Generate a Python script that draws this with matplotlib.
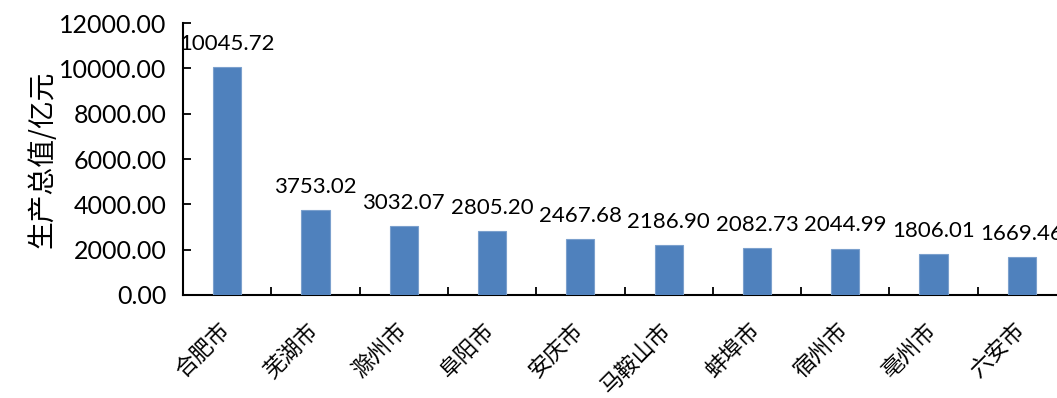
import matplotlib
matplotlib.use("Agg")
import matplotlib.pyplot as plt
from matplotlib.ticker import FormatStrFormatter
from matplotlib.transforms import ScaledTranslation

cities = ["合肥市", "芜湖市", "滁州市", "阜阳市", "安庆市", "马鞍山市", "蚌埠市", "宿州市", "亳州市", "六安市"]
gdp = [10045.72, 3753.02, 3032.07, 2805.20, 2467.68, 2186.90, 2082.73, 2044.99, 1806.01, 1669.46]
value_labels = ["10045.72", "3753.02", "3032.07", "2805.20", "2467.68", "2186.90", "2082.73", "2044.99", "1806.01", "1669.46"]
y_label = "生产总值/亿元"

num_font = "Lato"
cjk = ["Noto Sans CJK SC", "DejaVu Sans"]

fig = plt.figure(figsize=(10.57, 3.98), dpi=100)
ax = fig.add_axes([183/1057, 103/398, 883/1057, 272/398])

x = list(range(len(cities)))
ax.bar(x, gdp, width=0.32, color="#4F81BD", edgecolor="#7BA0CD", linewidth=0.8, zorder=3)
ax.set_xlim(-0.5, len(cities) - 0.5)
ax.set_ylim(0, 12000)
ax.set_yticks([0, 2000, 4000, 6000, 8000, 10000, 12000])
ax.yaxis.set_major_formatter(FormatStrFormatter("%.2f"))

for xi, v, lab in zip(x, gdp, value_labels):
    ax.annotate(lab, (xi, v), xytext=(0, 9.5), textcoords="offset points",
                ha="center", va="bottom", fontsize=16, family=num_font, color="black")

ax.set_xticks(x)
ax.set_xticklabels(cities, rotation=45, ha="right", va="center", rotation_mode="anchor",
                   fontsize=16, family=cjk, fontweight="light")
ax.tick_params(axis="x", length=0, pad=23)
offset = ScaledTranslation(-1/100, 0, fig.dpi_scale_trans)
for lbl in ax.get_xticklabels():
    lbl.set_transform(lbl.get_transform() + offset)
# category boundary ticks
ax.set_xticks([i + 0.5 for i in x[:-1]], minor=True)
ax.tick_params(axis="x", which="minor", direction="in", length=6, width=1.3)
ax.tick_params(axis="y", direction="in", length=6, width=1.3, labelsize=18, pad=12)
for lbl in ax.get_yticklabels():
    lbl.set_family(num_font)

ax.set_ylabel(y_label, fontsize=20, family=cjk, fontweight="light")
ax.yaxis.set_label_coords(-0.1427, 0.5)

for s in ["top", "right"]:
    ax.spines[s].set_visible(False)
ax.spines["left"].set_linewidth(1.5)
ax.spines["bottom"].set_linewidth(1.5)

fig.savefig("out.png", dpi=100)
